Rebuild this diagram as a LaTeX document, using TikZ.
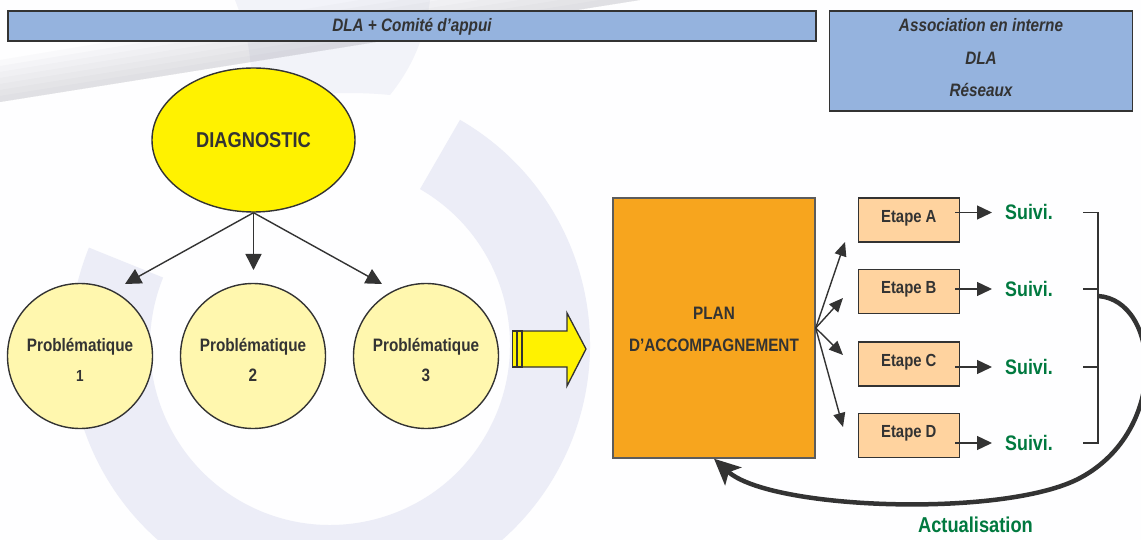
\documentclass[tikz,border=0pt]{standalone}
\usepackage{fontspec}
\setmainfont{Liberation Sans}[FakeStretch=0.85]
\usetikzlibrary{shapes.geometric,arrows.meta}
\definecolor{dgray}{HTML}{333333}
\definecolor{barblue}{HTML}{95B3DE}
\definecolor{diagyel}{HTML}{FFF200}
\definecolor{circyel}{HTML}{FFF7AE}
\definecolor{planor}{HTML}{F7A51E}
\definecolor{etapepeach}{HTML}{FFD39F}
\definecolor{suivigreen}{HTML}{00793F}
\definecolor{lav}{HTML}{E9EAF5}
\definecolor{swooshgray}{HTML}{8E8E9C}
\begin{document}
\begin{tikzpicture}[x=1pt,y=-1pt,
  bar/.style={rectangle, draw=dgray, line width=1.8pt, fill=barblue, inner sep=0pt},
  btxt/.style={font=\fontsize{18}{20}\selectfont\bfseries\itshape, text=dgray, inner sep=0pt, text height=13pt, text depth=0pt},
  diagstyle/.style={ellipse, draw=dgray, line width=1.4pt, fill=diagyel, inner sep=0pt,
    minimum width=203pt, minimum height=144pt,
    font=\fontsize{21.5}{24}\selectfont\bfseries, text=dgray, text height=15.5pt, text depth=0pt},
  probcirc/.style={circle, draw=dgray, line width=1.4pt, fill=circyel, inner sep=0pt, minimum size=145pt},
  ptxt/.style={font=\fontsize{18}{20}\selectfont\bfseries, text=dgray, inner sep=0pt, text height=13pt, text depth=0pt},
  numtxt/.style={font=\fontsize{#1}{20}\selectfont\bfseries, text=dgray, inner sep=0pt, text height=0.72*#1, text depth=0pt},
  planbox/.style={rectangle, draw=dgray!80, line width=1.4pt, fill=planor, inner sep=0pt,
    minimum width=202pt, minimum height=260pt},
  etapebox/.style={rectangle, draw=dgray, line width=1.5pt, fill=etapepeach, inner sep=0pt,
    minimum width=101pt, minimum height=44pt,
    font=\fontsize{17.5}{20}\selectfont\bfseries, text=dgray, text height=12.6pt, text depth=8pt},
  suivi/.style={font=\fontsize{21}{24}\selectfont\bfseries, text=suivigreen, inner sep=0pt, text height=15pt, text depth=0pt},
  arr/.style={draw=dgray, line width=1.4pt, -{Triangle[length=16pt,width=16pt]}},
  sarr/.style={draw=dgray, line width=1.4pt, -{Triangle[length=15pt,width=14pt]}},
  farr/.style={draw=dgray, line width=1.4pt, -{Triangle[length=14pt,width=12pt]}},
  brk/.style={draw=dgray, line width=1.4pt},
  actarr/.style={draw=dgray, line width=4.5pt, -{Stealth[length=26pt,width=24pt,inset=6pt]}},
  blockarrow/.style={fill=diagyel, draw=dgray, line width=1.3pt, line join=miter}
]
\useasboundingbox (0,0) rectangle (1141,540);
\fill[white!98!lav] (0,0) rectangle (1141,540);

% watermark ring
\fill[lav!85] (330,345) ++(-158:260) arc[start angle=-158,end angle=-420,radius=260]
  -- (420,189.1) arc[start angle=-420,end angle=-158,radius=180] -- cycle;
% light lavender patch at top
\fill[lav!60] (235,0) -- (430,0) .. controls (425,40) and (410,70) .. (390,95)
  .. controls (340,90) and (290,95) .. (250,105) .. controls (255,60) and (245,25) .. (235,0) -- cycle;
% grey swoosh
\foreach \i in {1,...,7}{
  \fill[swooshgray, opacity=0.04] (0,102) -- (640,0) -- ({640-40*\i},0) -- (0,{102-6*\i}) -- cycle;
}

% top bars
\node[bar, minimum width=808pt, minimum height=30pt] (topbar) at (412,26) {};
\node[btxt] (toptxt) at (412,25.5) {DLA + Comité d’appui};
\node[bar, minimum width=303pt, minimum height=100pt] (rbox) at (981,61) {};
\node[btxt] (r1) at (981,25.5) {Association en interne};
\node[btxt] (r2) at (981,58) {DLA};
\node[btxt] (r3) at (981,90) {Réseaux};

% diagnostic
\node[diagstyle] (diag) at (253.5,140) {DIAGNOSTIC};

% problematiques
\node[probcirc] (p1) at (80,356) {};
\node[probcirc] (p2) at (253,356) {};
\node[probcirc] (p3) at (426,356) {};
\node[ptxt] (p1a) at (80,344.5) {Problématique};
\node[ptxt] (p2a) at (253,344.5) {Problématique};
\node[ptxt] (p3a) at (426,344.5) {Problématique};
\node[numtxt=16] (p1b) at (80,375.5) {1};
\node[numtxt=18] (p2b) at (253,375.5) {2};
\node[numtxt=18] (p3b) at (426,375.5) {3};

\coordinate (t1) at (125,284);
\coordinate (t2) at (253.5,270);
\coordinate (t3) at (382,284);
\draw[arr] (diag.south) -- (t1);
\draw[arr] (diag.south) -- (t2);
\draw[arr] (diag.south) -- (t3);

% block arrow
\filldraw[blockarrow] (522,331) -- (567,331) -- (567,313) -- (586,349) -- (567,386) -- (567,367) -- (522,367) -- cycle;
\filldraw[blockarrow] (512.5,331) rectangle (516.5,367);
\filldraw[blockarrow] (517.5,331) rectangle (522,367);

% plan
\node[planbox] (plan) at (714,328) {};
\node[ptxt] (pl1) at (714,312.5) {PLAN};
\node[ptxt] (pl2) at (714,344.5) {D’ACCOMPAGNEMENT};

% etapes
\node[etapebox] (ea) at (908.8,220) {Etape A};
\node[etapebox] (eb) at (908.8,291.5) {Etape B};
\node[etapebox] (ec) at (908.8,364) {Etape C};
\node[etapebox] (ed) at (908.8,435.5) {Etape D};

\coordinate (fa) at (845,242);
\coordinate (fb) at (843,298);
\coordinate (fc) at (843,355);
\coordinate (fd) at (843,427);
\draw[farr] (plan.east) -- (fa);
\draw[farr] (plan.east) -- (fb);
\draw[farr] (plan.east) -- (fc);
\draw[farr] (plan.east) -- (fd);

% suivi
\node[suivi] (sa) at (1029,212.5) {Suivi.};
\node[suivi] (sb) at (1029,289) {Suivi.};
\node[suivi] (sc) at (1029,367) {Suivi.};
\node[suivi] (sd) at (1029,443) {Suivi.};

\draw[sarr, shorten <=-5pt, shorten >=13pt] (ea.east |- sa.west) -- (sa.west);
\draw[sarr, shorten <=-5pt, shorten >=13pt] (eb.east |- sb.west) -- (sb.west);
\draw[sarr, shorten <=-5pt, shorten >=13pt] (ec.east |- sc.west) -- (sc.west);
\draw[sarr, shorten <=-5pt, shorten >=13pt] (ed.east |- sd.west) -- (sd.west);

% bracket
\coordinate (bl) at (1083,0);
\coordinate (bk) at (1098,0);
\draw[brk] (bl |- sa) -- (bk |- sa) -- (bk |- sd) -- (bl |- sd);
\draw[brk] (bl |- sb) -- (bk |- sb);
\draw[brk] (bl |- sc) -- (bk |- sc);

% actualisation
\coordinate (act0) at (1098,296);
\draw[actarr] (act0) .. controls (1160,300) and (1170,430) .. (1080,478)
  .. controls (1005,518) and (770,510) .. (plan.south);
\node[suivi, font=\fontsize{21.5}{24}\selectfont\bfseries] (actl) at (975.5,524.5) {Actualisation};
\end{tikzpicture}
\end{document}
